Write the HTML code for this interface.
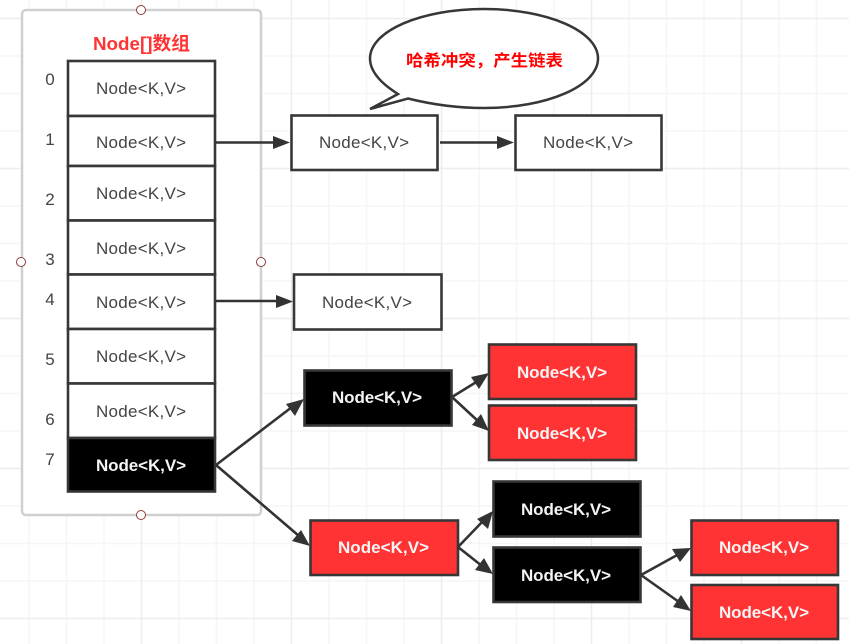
<!DOCTYPE html>
<html>
<head>
<meta charset="utf-8">
<style>
html,body{margin:0;padding:0;background:#fff;width:849px;height:644px;overflow:hidden}
svg{display:block}
text{font-family:"Liberation Sans","Noto Sans CJK SC",sans-serif}
.n{font-size:17px;fill:#444}
.w{font-size:17px;fill:#f4f4f4;font-weight:bold}
.i{font-size:17px;fill:#444;text-anchor:middle}
.b{fill:#fff;stroke:#373737;stroke-width:2.6}
.k{fill:#000;stroke:#373737;stroke-width:2.6}
.r{fill:#ff3333;stroke:#373737;stroke-width:2.6}
.a{stroke:#333;stroke-width:2.6;fill:none}
.h{fill:#333;stroke:none}
.c{fill:#fff;stroke:#8f3a3a;stroke-width:1}
</style>
</head>
<body>
<svg width="849" height="644" viewBox="0 0 849 644" xmlns="http://www.w3.org/2000/svg">
<rect width="849" height="644" fill="#fff"/>
<!-- minor grid -->
<path stroke="#f6f6f6" stroke-width="1.6" fill="none" d="M29 0V644M66.500 0V644M104 0V644M179 0V644M216.500 0V644M254 0V644M329 0V644M366.500 0V644M404 0V644M479 0V644M516.500 0V644M554 0V644M629 0V644M666.500 0V644M704 0V644M779 0V644M816.500 0V644M0 56H849M0 93.500H849M0 131H849M0 206H849M0 243.500H849M0 281H849M0 356H849M0 393.500H849M0 431H849M0 506H849M0 543.500H849M0 581H849"/>
<!-- major grid -->
<path stroke="#ededed" stroke-width="1.6" fill="none" d="M141.500 0V644M291.500 0V644M441.500 0V644M591.500 0V644M741.500 0V644M0 18.500H849M0 168.500H849M0 318.500H849M0 468.500H849M0 618.500H849"/>

<!-- container -->
<rect x="22" y="10" width="239" height="505" rx="4" fill="#fff" stroke="#d0d0d0" stroke-width="2.500"/>
<circle class="c" cx="141" cy="10" r="4.500"/>
<circle class="c" cx="21" cy="262" r="4.500"/>
<circle class="c" cx="261" cy="262" r="4.500"/>
<circle class="c" cx="141" cy="515" r="4.500"/>
<text x="93" y="50" font-size="18.500" font-weight="bold" fill="#ff3333" textLength="97" lengthAdjust="spacingAndGlyphs">Node[]数组</text>

<!-- array -->
<rect class="b" x="68" y="61" width="147" height="55"/>
<rect class="b" x="68" y="116" width="147" height="50"/>
<rect class="b" x="68" y="166" width="147" height="54.500"/>
<rect class="b" x="68" y="220.500" width="147" height="54"/>
<rect class="b" x="68" y="274.500" width="147" height="54.500"/>
<rect class="b" x="68" y="329" width="147" height="54.500"/>
<rect class="b" x="68" y="383.500" width="147" height="54.500"/>
<rect class="k" x="68" y="438" width="147" height="53.500"/>

<text class="n" x="96" y="94" textLength="90">Node&lt;K,V&gt;</text>
<text class="n" x="96" y="148" textLength="90">Node&lt;K,V&gt;</text>
<text class="n" x="96" y="199" textLength="90">Node&lt;K,V&gt;</text>
<text class="n" x="96" y="254" textLength="90">Node&lt;K,V&gt;</text>
<text class="n" x="96" y="308" textLength="90">Node&lt;K,V&gt;</text>
<text class="n" x="96" y="362" textLength="90">Node&lt;K,V&gt;</text>
<text class="n" x="96" y="417" textLength="90">Node&lt;K,V&gt;</text>
<text class="w" x="96" y="471" textLength="90">Node&lt;K,V&gt;</text>

<text class="i" x="50" y="85">0</text>
<text class="i" x="50" y="145">1</text>
<text class="i" x="50" y="205">2</text>
<text class="i" x="50" y="265">3</text>
<text class="i" x="50" y="305">4</text>
<text class="i" x="50" y="365">5</text>
<text class="i" x="50" y="425">6</text>
<text class="i" x="50" y="465">7</text>

<!-- callout -->
<path d="M398 94 C 382 84 370 72 370 58.500 C 370 31 421 9 484 9 C 547 9 598 31 598 58.500 C 598 86 547 108 484 108 C 456 108 430 104 408 98.500 L370 109 Z" fill="#fff" stroke="#373737" stroke-width="2.500"/>
<text x="406" y="66" font-size="16" font-weight="bold" fill="#ff0000" textLength="157" lengthAdjust="spacingAndGlyphs">哈希冲突，产生链表</text>

<!-- nodes -->
<rect class="b" x="291.500" y="115.500" width="146" height="54.500"/>
<text class="n" x="319" y="148" textLength="90">Node&lt;K,V&gt;</text>
<rect class="b" x="515.500" y="115.500" width="146" height="54.500"/>
<text class="n" x="543" y="148" textLength="90">Node&lt;K,V&gt;</text>
<rect class="b" x="294" y="274.500" width="147.500" height="55"/>
<text class="n" x="322" y="308" textLength="90">Node&lt;K,V&gt;</text>

<rect class="k" x="304.500" y="370.500" width="147" height="55"/>
<text class="w" x="332" y="403" textLength="90">Node&lt;K,V&gt;</text>
<rect class="r" x="489" y="344.500" width="147" height="54.500"/>
<text class="w" x="517" y="378" textLength="90">Node&lt;K,V&gt;</text>
<rect class="r" x="489" y="405.500" width="147" height="54.500"/>
<text class="w" x="517" y="439" textLength="90">Node&lt;K,V&gt;</text>

<rect class="r" x="310.500" y="520.500" width="147.500" height="54.500"/>
<text class="w" x="338" y="553" textLength="91">Node&lt;K,V&gt;</text>
<rect class="k" x="493.500" y="481.500" width="147" height="55"/>
<text class="w" x="521" y="515" textLength="90">Node&lt;K,V&gt;</text>
<rect class="k" x="493.500" y="547.500" width="147" height="54.500"/>
<text class="w" x="521" y="581" textLength="90">Node&lt;K,V&gt;</text>
<rect class="r" x="691.500" y="520.500" width="146.500" height="54.500"/>
<text class="w" x="719" y="553" textLength="90">Node&lt;K,V&gt;</text>
<rect class="r" x="691.500" y="585" width="146.500" height="54"/>
<text class="w" x="719" y="618" textLength="90">Node&lt;K,V&gt;</text>

<!-- connectors -->
<path class="a" d="M216 142.500H276"/>
<polygon class="h" points="290,142.500 273,136 273,149"/>
<path class="a" d="M440 142.500H500"/>
<polygon class="h" points="514,142.500 497,136 497,149"/>
<path class="a" d="M216 301H279"/>
<polygon class="h" points="293,301.500 276,295 276,308"/>

<path class="a" d="M216 465L292 407"/>
<polygon class="h" points="304,399 295,416 286,404"/>
<path class="a" d="M216 465L299 536"/>
<polygon class="h" points="310,546 292,541 301,530"/>
<path class="a" d="M452 397L478 381"/>
<polygon class="h" points="489,373 479,389 471,377"/>
<path class="a" d="M452 397L479 422"/>
<polygon class="h" points="489,431 472,425 481,414"/>
<path class="a" d="M458 547L484 520"/>
<polygon class="h" points="493,511 488,529 477,519"/>
<path class="a" d="M458 547L482 566"/>
<polygon class="h" points="493,574 475,570 484,558"/>
<path class="a" d="M641 575L679 554"/>
<polygon class="h" points="691,548 680,562 672,549"/>
<path class="a" d="M641 575L679 602"/>
<polygon class="h" points="691,611 673,607 681,595"/>
</svg>
</body>
</html>
